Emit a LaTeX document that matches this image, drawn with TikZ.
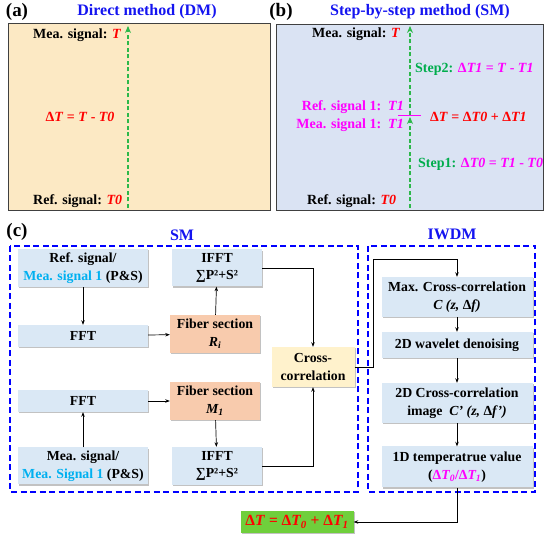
\documentclass[tikz,border=0pt]{standalone}
\usepackage{fontspec}
\setmainfont{Liberation Serif}
\usepackage{tikz}
\usetikzlibrary{arrows.meta,shadows}
\definecolor{panelA}{HTML}{FCE9C4}
\definecolor{panelB}{HTML}{DAE3F3}
\definecolor{boxblue}{HTML}{DAE8F5}
\definecolor{fiber}{HTML}{F8CBAD}
\definecolor{crossy}{HTML}{FFF2CC}
\definecolor{resgreen}{HTML}{6FCF3C}
\definecolor{stepgreen}{HTML}{00AD4C}
\definecolor{arrgreen}{HTML}{2DB84A}
\definecolor{mag}{HTML}{FF00FF}
\definecolor{sky}{HTML}{00B0F0}
\definecolor{titleblue}{HTML}{1414F0}
\tikzset{>=Stealth}
\tikzset{
    txt/.style={inner sep=0pt, font=\fontsize{14}{16}\selectfont\bfseries},
    ttl/.style={inner sep=0pt, text=titleblue, font=\fontsize{16}{18}\selectfont\bfseries},
    tag/.style={inner sep=0pt, font=\fontsize{19}{22}\selectfont\bfseries},
    box/.style={fill=boxblue, align=center, inner sep=1pt,
        drop shadow={shadow xshift=1.2pt, shadow yshift=-1.2pt, fill=black!40, opacity=0.6},
        font=\fontsize{13.8}{17.5}\selectfont\bfseries},
    link/.style={-{Stealth[length=4.5pt,width=3.5pt]}, line width=0.7pt},
    green arrow/.style={draw=arrgreen, dashed, line width=1.1pt, dash pattern=on 4pt off 2.5pt,
        -{Stealth[length=7pt,width=6pt,fill=arrgreen]}},
    frame/.style={draw=blue, line width=1.5pt, dash pattern=on 6pt off 3.5pt},
    panel/.style={draw=black!75, line width=0.8pt},
}
\newcommand\ti[1]{\textit{#1}}

\begin{document}
\begin{tikzpicture}[x=1pt, y=-1pt]
    \useasboundingbox (0,0) rectangle (550,540);

    % panel (a)
    \draw[panel, fill=panelA] (8,23) rectangle (270,210);
    \node[tag] (taga) at (17,12) {(a)};
    \node[ttl] (ttla) at (147,12) {Direct method (DM)};
    \coordinate (a0) at (128,208);
    \coordinate (a1) at (128,26);
    \draw[green arrow] (a0) -- (a1);
    \node[txt, anchor=west] (ameas) at (33,35) {Mea. signal: \textcolor{red}{\ti{T}}};
    \node[txt, text=red] (adelta) at (80,117) {Δ\ti{T} = \ti{T} - \ti{T0}};
    \node[txt, anchor=west] (aref) at (33,201) {Ref. signal: \textcolor{red}{\ti{T0}}};

    % panel (b)
    \draw[panel, fill=panelB] (276,24) rectangle (543,210);
    \node[tag] (tagb) at (281,12) {(b)};
    \node[ttl] (ttlb) at (420,12) {Step-by-step method (SM)};
    \coordinate (b0) at (410,208);
    \coordinate (b1) at (410,117);
    \coordinate (b2) at (410,26);
    \coordinate (b3) at (410,115);
    \draw[green arrow] (b0) -- (b1);
    \draw[green arrow] (b3) -- (b2);
    \draw[draw=mag, line width=0.9pt] (398,115) -- (421,115);
    \node[txt, anchor=west] (bmeas) at (312,34) {Mea. signal: \textcolor{red}{\ti{T}}};
    \node[txt, anchor=west, text=stepgreen] (bstep2) at (415,69)
        {Step2: \textcolor{mag}{Δ\ti{T1} = \ti{T} - \ti{T1}}};
    \node[txt, anchor=east, text=mag] (bref1) at (404,107) {Ref. signal 1:\ \ \ti{T1}};
    \node[txt, anchor=east, text=mag] (bmeas1) at (404,125) {Mea. signal 1:\ \ \ti{T1}};
    \node[txt, anchor=west, text=red] (bdelta) at (430,117) {Δ\ti{T} = Δ\ti{T0} + Δ\ti{T1}};
    \node[txt, anchor=west, text=stepgreen] (bstep1) at (418,164)
        {Step1: \textcolor{mag}{Δ\ti{T0} = \ti{T1} - \ti{T0}}};
    \node[txt, anchor=west] (bref) at (307,201) {Ref. signal: \textcolor{red}{\ti{T0}}};

    % panel (c)
    \node[tag] (tagc) at (17,232) {(c)};
    \node[ttl] (ttlsm) at (182,235) {SM};
    \node[ttl] (ttliw) at (452,234) {IWDM};
    \draw[frame] (10,246) rectangle (358,492);
    \draw[frame] (368,246) rectangle (535,492);

    \node[box, minimum width=130pt, minimum height=38pt] (ref) at (83,268)
        {Ref. signal/\\\textcolor{sky}{Mea. signal 1} (P\&S)};
    \node[box, minimum width=130pt, minimum height=22pt] (ffta) at (83,336) {FFT};
    \node[box, fill=fiber, minimum width=90pt, minimum height=38pt] (fibr) at (215,334)
        {Fiber section\\\ti{R\textsubscript{i}}};
    \node[box, minimum width=90pt, minimum height=37pt] (iffta) at (217,268)
        {IFFT\\∑P²+S²};
    \node[box, fill=crossy, minimum width=83pt, minimum height=40pt] (cross) at (313,367)
        {Cross-\\correlation};
    \node[box, minimum width=130pt, minimum height=22pt] (fftb) at (83,401) {FFT};
    \node[box, minimum width=130pt, minimum height=37pt] (mea) at (83,466)
        {Mea. signal/\\\textcolor{sky}{Mea. Signal 1} (P\&S)};
    \node[box, fill=fiber, minimum width=90pt, minimum height=38pt] (fibm) at (215,401)
        {Fiber section\\\ti{M\textsubscript{1}}};
    \node[box, minimum width=90pt, minimum height=38pt] (ifftb) at (217,466)
        {IFFT\\∑P²+S²};

    \node[box, minimum width=151pt, minimum height=40pt] (maxc) at (457,297)
        {Max. Cross-correlation\\\ti{C (z, }Δ\ti{f)}};
    \node[box, minimum width=151pt, minimum height=26pt] (wav) at (457,345)
        {2D wavelet denoising};
    \node[box, minimum width=151pt, minimum height=40pt] (cimg) at (457,403)
        {2D Cross-correlation\\image\ \ \ti{C' (z, }Δ\ti{f')}};
    \node[box, minimum width=151pt, minimum height=41pt] (temp) at (457,467)
        {1D temperatrue value\\(\textcolor{mag}{Δ\ti{T\textsubscript{0}}/Δ\ti{T\textsubscript{1}}})};

    \node[box, fill=resgreen, minimum width=113pt, minimum height=22pt,
        font=\fontsize{15.5}{17}\selectfont\bfseries, text=red] (res) at (297,522)
        {Δ\ti{T} = Δ\ti{T\textsubscript{0}} + Δ\ti{T\textsubscript{1}}};

    \coordinate (turn) at (373,259);

    \draw[link] (ref) -- (ffta);
    \draw[link] (ffta) -- (fibr);
    \draw[link] (fibr) -- (iffta);
    \draw[link] (iffta.east) -| (cross.north);
    \draw[link] (mea) -- (fftb);
    \draw[link] (fftb) -- (fibm);
    \draw[link] (fibm) -- (ifftb);
    \draw[link] (ifftb.east) -| (cross.south);
    \draw[link] (cross.east) -| (turn) -| (maxc.north);
    \draw[link] (maxc) -- (wav);
    \draw[link] (wav) -- (cimg);
    \draw[link] (cimg) -- (temp);
    \draw[link] (temp.south) |- (res.east);
\end{tikzpicture}
\end{document}
